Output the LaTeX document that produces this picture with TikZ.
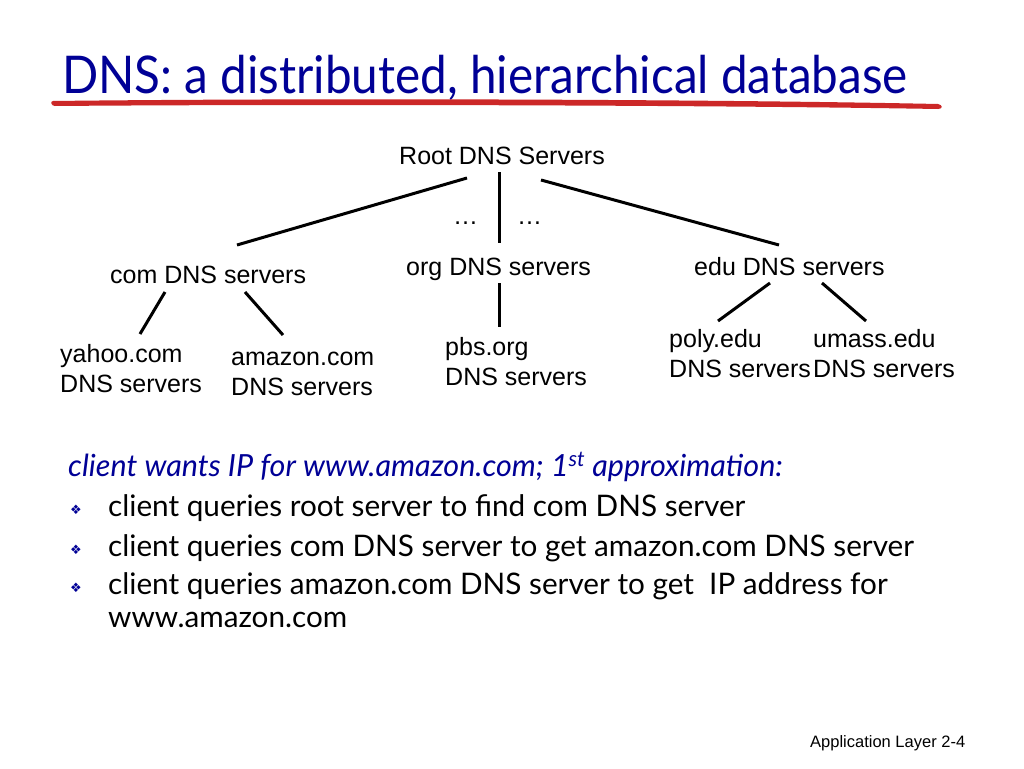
\documentclass[tikz,border=0pt]{standalone}
\usepackage{fontspec}
\setmainfont{Lato}
\newfontfamily\arialf{Liberation Sans}
\newfontfamily\symf{DejaVu Sans}
\definecolor{titleblue}{RGB}{0,0,150}
\definecolor{brushred}{RGB}{204,40,40}
\begin{document}
\begin{tikzpicture}[x=1pt,y=-1pt,
  lbl/.style={font=\arialf\fontsize{25}{30}\selectfont, anchor=base west, inner sep=0pt, align=left},
  bul/.style={font=\fontsize{29.7}{34}\selectfont, anchor=base west, inner sep=0pt},
  bmark/.style={anchor=base west, inner sep=0pt, text=titleblue, font=\symf\fontsize{13}{15}\selectfont},
  link/.style={line width=3pt}]
\useasboundingbox[fill=white] (0,0) rectangle (1024,768);
% title
\node[anchor=base west, inner sep=0pt, text=titleblue, font=\fontsize{52}{60}\selectfont] (title) at (62,93) {\scalebox{0.916}[1]{DNS: a distributed, hierarchical database}};
\fill[brushred] (53,101) .. controls (300,98) and (700,99) .. (938,104)
  .. controls (943,105) and (943,109) .. (938,109)
  .. controls (700,105) and (300,104) .. (55,106)
  .. controls (51,106) and (50,101) .. cycle;
% tree labels
\node[lbl] (root) at (399,164) {Root DNS Servers};
\node[lbl] (com) at (110,283) {com DNS servers};
\node[lbl] (org) at (406,275) {org DNS servers};
\node[lbl] (edu) at (694,275) {edu DNS servers};
\node[lbl] (yahoo) at (60,392) {yahoo.com\\DNS servers};
\node[lbl] (amazon) at (231,395) {amazon.com\\DNS servers};
\node[lbl] (pbs) at (445,385) {pbs.org\\DNS servers};
\node[lbl] (poly) at (669,377) {poly.edu\\DNS servers};
\node[lbl] (umass) at (813,377) {umass.edu\\DNS servers};
\node[lbl] (dotsl) at (453,224) {\ldots};
\node[lbl] (dotsr) at (517,224) {\ldots};
% connectors
\coordinate (r1) at (467,178); \coordinate (c1) at (237,245);
\coordinate (r2) at (499,172); \coordinate (o1) at (499,243);
\coordinate (r3) at (541,180); \coordinate (e1) at (779,245);
\coordinate (c2) at (165,292); \coordinate (y1) at (140,334);
\coordinate (c3) at (245,292); \coordinate (a1) at (283,335);
\coordinate (o2) at (499,283); \coordinate (p1) at (499,327);
\coordinate (e2) at (770,283); \coordinate (pl1) at (718,321);
\coordinate (e3) at (822,283); \coordinate (u1) at (866,321);
\draw[link] (r1) -- (c1);
\draw[link] (r2) -- (o1);
\draw[link] (r3) -- (e1);
\draw[link] (c2) -- (y1);
\draw[link] (c3) -- (a1);
\draw[link] (o2) -- (p1);
\draw[link] (e2) -- (pl1);
\draw[link] (e3) -- (u1);
% text
\node[bul, text=titleblue, font=\itshape\fontsize{30.5}{34}\selectfont] (intro) at (68,476) {client wants IP for www.amazon.com; 1\textsuperscript{st} approximation:};
\node[bmark] (b1) at (70,514) {❖};
\node[bmark] (b2) at (70,554) {❖};
\node[bmark] (b3) at (70,592) {❖};
\node[bul] (t1) at (108,516) {client queries root server to find com DNS server};
\node[bul] (t2) at (108,556) {client queries com DNS server to get amazon.com DNS server};
\node[bul] (t3) at (108,594) {client queries amazon.com DNS server to get\ \ IP address for};
\node[bul] (t4) at (108,627) {www.amazon.com};
\node[anchor=base west, inner sep=0pt, font=\arialf\fontsize{16.5}{20}\selectfont] (foot) at (810,747) {Application Layer 2-4};
\end{tikzpicture}
\end{document}
